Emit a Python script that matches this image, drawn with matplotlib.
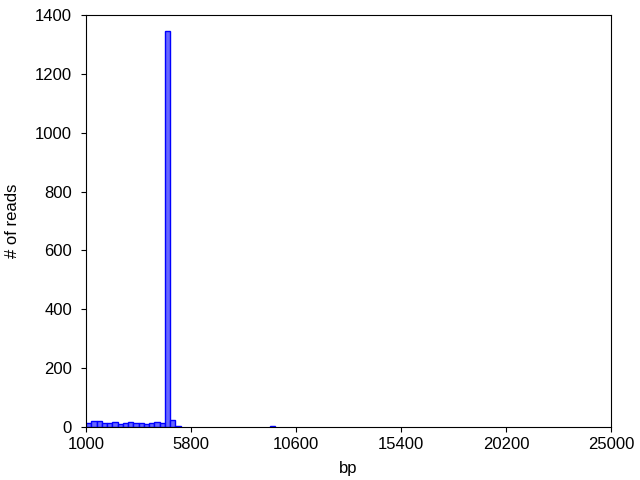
import matplotlib
matplotlib.use("Agg")
import matplotlib.pyplot as plt
import numpy as np

plt.rcParams['font.family'] = ['Liberation Sans', 'DejaVu Sans']

bin_start = 1000
bin_end = 25000
n_bins = 100
counts = [14, 19, 19, 12, 12, 16, 10, 14, 16, 14, 14, 10, 14, 17, 14, 1345, 23, 2,
          0, 0, 0, 0, 0, 0, 0, 0, 0, 0, 0, 0, 0, 0, 0, 0, 0, 2] + [0] * 64
xticks = [1000, 5800, 10600, 15400, 20200, 25000]
yticks = [0, 200, 400, 600, 800, 1000, 1200, 1400]

edges = np.linspace(bin_start, bin_end, n_bins + 1)
width = edges[1] - edges[0]
counts = np.array(counts)
nz = counts > 0

fig = plt.figure(figsize=(6.4, 4.8), dpi=100)
ax = fig.add_axes([86/640, 1-427/480, (611-86)/640, (427-15)/480])
ax.bar(edges[:-1][nz], counts[nz], width=width, align='edge',
       facecolor=(0.4, 0.4, 1.0), edgecolor='blue', linewidth=1.0)
ax.set_xlim(bin_start, bin_end)
ax.set_ylim(0, 1400)
ax.set_xticks(xticks)
ax.set_yticks(yticks)
ax.tick_params(direction='out', top=False, right=False, labelsize=12, length=3.5)
ax.tick_params(axis='x', pad=3.5)
ax.tick_params(axis='y', pad=6.5)
ax.set_xlabel('bp', fontsize=12, labelpad=7)
ax.set_ylabel('# of reads', fontsize=12, labelpad=10.5)
fig.savefig('out.png', dpi=100)
